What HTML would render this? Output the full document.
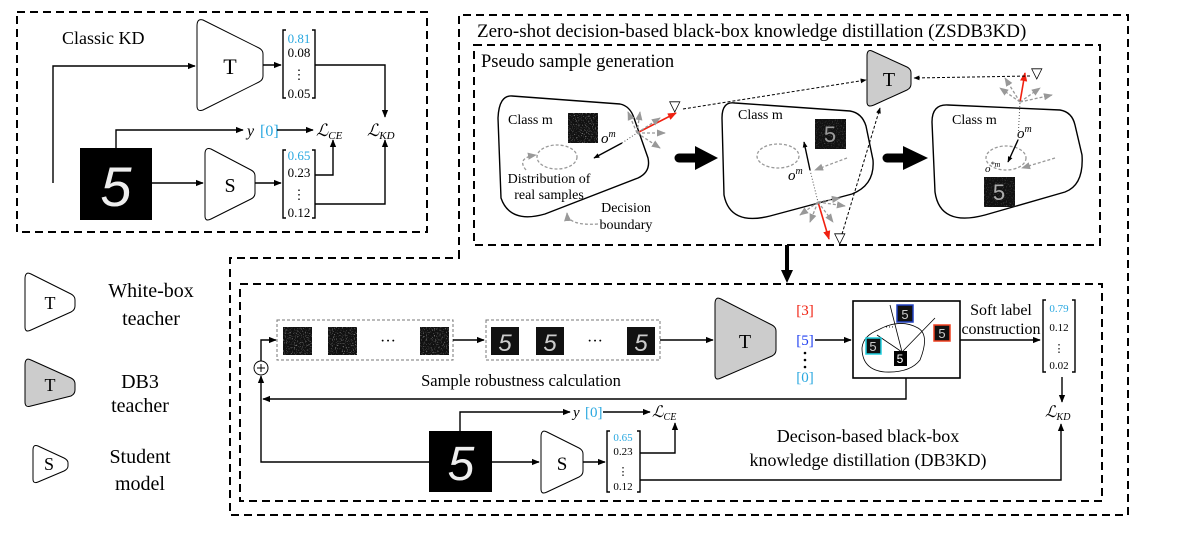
<!DOCTYPE html>
<html><head><meta charset="utf-8"><style>
html,body{margin:0;padding:0;background:#fff;}
svg{display:block;font-family:"Liberation Serif",serif;}
</style></head><body>
<svg width="1192" height="535" viewBox="0 0 1192 535" xmlns="http://www.w3.org/2000/svg">
<defs>
<marker id="a" viewBox="0 0 10 10" refX="9" refY="5" markerWidth="8" markerHeight="8" orient="auto-start-reverse" markerUnits="userSpaceOnUse"><path d="M0,1 L10,5 L0,9 z" fill="#000"/></marker>
<marker id="ag" viewBox="0 0 10 10" refX="9" refY="5" markerWidth="9" markerHeight="9" orient="auto" markerUnits="userSpaceOnUse"><path d="M0,1 L10,5 L0,9 z" fill="#999"/></marker>
<marker id="ar" viewBox="0 0 10 10" refX="9" refY="5" markerWidth="9" markerHeight="9" orient="auto" markerUnits="userSpaceOnUse"><path d="M0,1 L10,5 L0,9 z" fill="#f02010"/></marker>
<marker id="as" viewBox="0 0 10 10" refX="9" refY="5" markerWidth="6" markerHeight="6" orient="auto" markerUnits="userSpaceOnUse"><path d="M0,1 L10,5 L0,9 z" fill="#000"/></marker>
<filter id="n" x="0" y="0" width="1" height="1"><feTurbulence type="fractalNoise" baseFrequency="0.9" numOctaves="1" seed="3"/><feColorMatrix values="0 0 0 0 0.7 0 0 0 0 0.7 0 0 0 0 0.7 3 0 0 0 -1.7"/></filter>
</defs>
<style>
.d{fill:none;stroke:#000;stroke-width:2;stroke-dasharray:8,5}
.l{fill:none;stroke:#000;stroke-width:1.4}
.t{font-size:18px}
.s{font-size:13px}
.g{fill:none;stroke:#999;stroke-width:1.3;stroke-dasharray:3,2}
.nz{fill:#111}
</style>

<!-- Classic KD -->
<rect class="d" x="17" y="12" width="410" height="220"/>
<text x="62" y="44" class="t">Classic KD</text>
<path d="M203,20 L259,48 Q263,50 263,54 L263,76 Q263,80 259,82 L203,110 Q197,112 197,106 L197,26 Q197,18 203,20 Z" fill="#fff" stroke="#000" stroke-width="1"/>
<text x="230" y="74" font-size="22" text-anchor="middle">T</text>
<path class="l" d="M53,183 L53,66 L195,66" marker-end="url(#a)"/>
<path class="l" d="M263,65 L281,65" marker-end="url(#a)"/>
<rect x="80" y="148" width="72" height="72" fill="#000"/>
<text x="116" y="206" font-size="56" fill="#eee" text-anchor="middle" font-style="italic" font-family="Liberation Sans">5</text>
<path class="l" d="M152,183 L203,183" marker-end="url(#a)"/>
<path d="M211,149 L251,170 Q255,172 255,176 L255,193 Q255,197 251,199 L211,219 Q205,222 205,216 L205,154 Q205,147 211,149 Z" fill="#fff" stroke="#000" stroke-width="1"/>
<text x="230" y="192" font-size="20" text-anchor="middle">S</text>
<path class="l" d="M255,183 L281,183" marker-end="url(#a)"/>
<path class="l" d="M286,30 L283,30 L283,98 L286,98 M312,30 L315,30 L315,98 L312,98" stroke-width="1"/>
<text x="299" y="43" class="s" fill="#2aa8e0" text-anchor="middle">0.81</text>
<text x="299" y="57" class="s" text-anchor="middle">0.08</text>
<text x="299" y="79" class="s" text-anchor="middle">⋮</text>
<text x="299" y="98" class="s" text-anchor="middle">0.05</text>
<path class="l" d="M286,150 L283,150 L283,218 L286,218 M312,150 L315,150 L315,218 L312,218" stroke-width="1"/>
<text x="299" y="160" class="s" fill="#2aa8e0" text-anchor="middle">0.65</text>
<text x="299" y="177" class="s" text-anchor="middle">0.23</text>
<text x="299" y="199" class="s" text-anchor="middle">⋮</text>
<text x="299" y="217" class="s" text-anchor="middle">0.12</text>
<path class="l" d="M315,65 L385,65 L385,117" marker-end="url(#a)"/>
<path class="l" d="M315,204 L385,204 L385,140" marker-end="url(#a)"/>
<path class="l" d="M116,148 L116,130 L243,130" marker-end="url(#a)"/>
<text x="247" y="136" font-size="16" font-style="italic">y</text>
<text x="260" y="136" font-size="16" fill="#2aa8e0">[0]</text>
<path class="l" d="M277,130 L313,130" marker-end="url(#a)"/>
<text x="316" y="136" font-size="17" font-style="italic">ℒ<tspan font-size="11" dy="3">CE</tspan></text>
<path class="l" d="M315,175 L333,175 L333,140" marker-end="url(#a)"/>
<text x="367" y="136" font-size="17" font-style="italic">ℒ<tspan font-size="11" dy="3">KD</tspan></text>

<!-- Legend -->
<path d="M31,274 L71,294 Q75,296 75,300 L75,306 Q75,310 71,312 L31,330 Q25,333 25,327 L25,279 Q25,271 31,274 Z" fill="#fff" stroke="#000" stroke-width="1"/>
<text x="50" y="309" font-size="18" text-anchor="middle">T</text>
<text x="151" y="297" font-size="20" text-anchor="middle">White-box</text>
<text x="151" y="325" font-size="20" text-anchor="middle">teacher</text>
<path d="M31,360 L71,378 Q75,380 75,384 L75,390 Q75,394 71,396 L31,406 Q25,408 25,402 L25,365 Q25,357 31,360 Z" fill="#ccc" stroke="#000" stroke-width="1"/>
<text x="50" y="391" font-size="18" text-anchor="middle">T</text>
<text x="140" y="388" font-size="20" text-anchor="middle">DB3</text>
<text x="140" y="412" font-size="20" text-anchor="middle">teacher</text>
<path d="M38,446 L64,458 Q68,460 68,463 L68,466 Q68,469 64,471 L38,482 Q33,484 33,479 L33,450 Q33,444 38,446 Z" fill="#fff" stroke="#000" stroke-width="1"/>
<text x="49" y="470" font-size="18" text-anchor="middle">S</text>
<text x="140" y="463" font-size="20" text-anchor="middle">Student</text>
<text x="140" y="490" font-size="20" text-anchor="middle">model</text>

<!-- ZSDB3KD outer -->
<path class="d" d="M459,258 L459,15 L1128,15 L1128,515 L230,515 L230,258 Z"/>
<text x="477" y="37" font-size="19">Zero-shot decision-based black-box knowledge distillation  (ZSDB3KD)</text>
<rect class="d" x="474" y="45" width="626" height="200"/>
<text x="481" y="67" font-size="18.5">Pseudo sample generation</text>

<!-- gray T -->
<path d="M872,51 L907,67 Q911,69 911,73 L911,84 Q911,88 907,90 L874,105 Q867,108 867,102 L867,56 Q867,49 872,51 Z" fill="#ccc" stroke="#000" stroke-width="1"/>
<text x="889" y="86" font-size="20" text-anchor="middle">T</text>

<!-- blob1 -->
<path d="M512,96 L620,104 Q630,106 634,118 L648,158 Q651,172 638,178 L545,214 Q510,224 501,198 L498,118 Q499,95 512,96 Z" class="l" stroke-width="1.8"/>
<text x="508" y="124" font-size="14">Class m</text>
<rect x="568" y="113" width="30" height="30" class="nz"/><rect x="568" y="113" width="30" height="30" filter="url(#n)"/>
<ellipse cx="557" cy="157" rx="20" ry="12" class="g" stroke="#333"/>
<text x="601" y="143" font-size="15" font-style="italic">o<tspan font-size="10" dy="-6">m</tspan></text>
<path class="l" d="M622,143 L594,158" marker-end="url(#as)" stroke-width="1.6"/>
<path d="M622,143 L637,133" stroke="#555" stroke-dasharray="1,2" fill="none"/>
<path d="M637,133 L676,113" stroke="#f02010" stroke-width="1.6" fill="none" marker-end="url(#ar)"/>
<text x="669" y="111" font-size="15">▽</text>
<path class="g" d="M637,133 L640,112" marker-end="url(#ag)"/><path class="g" d="M637,133 L660,118" marker-end="url(#ag)"/>
<path class="g" d="M637,133 L665,133" marker-end="url(#ag)"/><path class="g" d="M637,133 L660,148" marker-end="url(#ag)"/>
<path class="g" d="M637,133 L628,112" marker-end="url(#ag)"/>
<text x="549" y="183" font-size="14" text-anchor="middle">Distribution of</text>
<text x="549" y="199" font-size="14" text-anchor="middle">real samples</text>
<text x="626" y="212" font-size="14" text-anchor="middle">Decision</text>
<text x="626" y="229" font-size="14" text-anchor="middle">boundary</text>
<path class="g" d="M526,170 Q516,158 536,155" marker-end="url(#ag)"/>
<path class="g" d="M598,224 Q568,226 567,213" marker-end="url(#ag)"/>
<path d="M683,109 L866,80" fill="none" stroke="#000" stroke-dasharray="3,2" stroke-width="1" marker-end="url(#as)"/>

<!-- big arrow 1 -->
<path d="M679,158 L697,158" stroke="#000" stroke-width="9" stroke-linecap="round"/>
<path d="M695,146 L718,158 L695,170 Z"/>

<!-- blob2 -->
<path d="M735,103 L850,111 Q862,113 866,126 L873,160 Q875,185 852,194 L770,216 Q730,226 724,195 L722,118 Q722,101 735,103 Z" class="l" stroke-width="1.8"/>
<text x="738" y="119" font-size="14">Class m</text>
<rect x="815" y="119" width="31" height="30" class="nz"/><rect x="815" y="119" width="31" height="30" filter="url(#n)" opacity="0.5"/>
<text x="830" y="142" font-size="22" fill="#999" text-anchor="middle" font-family="Liberation Sans">5</text>
<ellipse cx="778" cy="156" rx="21" ry="12" class="g" stroke="#333"/>
<text x="788" y="180" font-size="15" font-style="italic">o<tspan font-size="10" dy="-6">m</tspan></text>
<path class="l" d="M810,170 L804,142" marker-end="url(#as)" stroke-width="1.6"/>
<path d="M810,170 L818,202" stroke="#555" stroke-dasharray="1,2" fill="none"/>
<path d="M818,202 L829,239" stroke="#f02010" stroke-width="1.6" fill="none" marker-end="url(#ar)"/>
<text x="834" y="243" font-size="15">▽</text>
<path class="g" d="M847,158 L815,170" marker-end="url(#ag)"/>
<path class="g" d="M818,202 L800,215" marker-end="url(#ag)"/><path class="g" d="M818,202 L810,222" marker-end="url(#ag)"/>
<path class="g" d="M818,202 L833,222" marker-end="url(#ag)"/><path class="g" d="M818,202 L845,206" marker-end="url(#ag)"/>
<path class="g" d="M818,202 L840,198" marker-end="url(#ag)"/>
<path d="M842,234 L880,108" fill="none" stroke="#000" stroke-dasharray="3,2" stroke-width="1" marker-end="url(#as)"/>

<!-- big arrow 2 -->
<path d="M887,158 L905,158" stroke="#000" stroke-width="9" stroke-linecap="round"/>
<path d="M903,146 L928,158 L903,170 Z"/>

<!-- blob3 -->
<path d="M948,105 L1060,110 Q1072,112 1075,125 L1082,155 Q1084,185 1065,192 L985,215 Q940,227 935,192 L932,122 Q932,104 948,105 Z" class="l" stroke-width="1.8"/>
<text x="952" y="124" font-size="14">Class m</text>
<rect x="984" y="177" width="31" height="30" class="nz"/><rect x="984" y="177" width="31" height="30" filter="url(#n)" opacity="0.5"/>
<text x="999" y="200" font-size="22" fill="#aaa" text-anchor="middle" font-family="Liberation Sans">5</text>
<ellipse cx="1006" cy="158" rx="20" ry="12" class="g" stroke="#333"/>
<text x="1017" y="138" font-size="15" font-style="italic">o<tspan font-size="10" dy="-6">m</tspan></text>
<text x="985" y="172" font-size="11" font-style="italic">o<tspan font-size="8" dy="-5">*m</tspan></text>
<path class="l" d="M1018,140 L1008,162" marker-end="url(#as)" stroke-width="1.6"/>
<path d="M1018,140 L1020,102" stroke="#555" stroke-dasharray="1,2" fill="none"/>
<path d="M1020,102 L1025,73" stroke="#f02010" stroke-width="1.6" fill="none" marker-end="url(#ar)"/>
<text x="1031" y="78" font-size="15">▽</text>
<path class="g" d="M1020,102 L1000,88" marker-end="url(#ag)"/><path class="g" d="M1020,102 L1005,78" marker-end="url(#ag)"/>
<path class="g" d="M1020,102 L1040,88" marker-end="url(#ag)"/><path class="g" d="M1020,102 L1052,95" marker-end="url(#ag)"/>
<path class="g" d="M1055,158 L1022,168" marker-end="url(#ag)"/>
<path d="M1030,76 L914,78" fill="none" stroke="#000" stroke-dasharray="3,2" stroke-width="1" marker-end="url(#as)"/>

<!-- down arrow -->
<path d="M787,245 L787,272" stroke="#000" stroke-width="4"/>
<path d="M781,270 L787,283 L793,270 Z"/>

<!-- DB3KD box -->
<rect class="d" x="240" y="284" width="862" height="217"/>
<rect x="277" y="320" width="176" height="40" fill="none" stroke="#777" stroke-dasharray="3,2"/>
<rect x="283" y="327" width="29" height="28" class="nz"/><rect x="283" y="327" width="29" height="28" filter="url(#n)"/>
<rect x="328" y="327" width="29" height="28" class="nz"/><rect x="328" y="327" width="29" height="28" filter="url(#n)"/>
<text x="388" y="346" font-size="16" text-anchor="middle">···</text>
<rect x="420" y="327" width="29" height="28" class="nz"/><rect x="420" y="327" width="29" height="28" filter="url(#n)"/>
<path class="l" d="M453,340 L484,340" marker-end="url(#a)"/>
<rect x="486" y="320" width="174" height="40" fill="none" stroke="#777" stroke-dasharray="3,2"/>
<rect x="491" y="327" width="28" height="28" fill="#111"/><text x="505" y="351" font-size="24" fill="#ccc" text-anchor="middle" font-family="Liberation Sans" font-style="italic">5</text>
<rect x="536" y="327" width="28" height="28" fill="#111"/><text x="550" y="351" font-size="24" fill="#ccc" text-anchor="middle" font-family="Liberation Sans" font-style="italic">5</text>
<text x="595" y="346" font-size="16" text-anchor="middle">···</text>
<rect x="627" y="327" width="28" height="28" fill="#111"/><text x="641" y="351" font-size="24" fill="#ccc" text-anchor="middle" font-family="Liberation Sans" font-style="italic">5</text>
<path class="l" d="M660,340 L713,340" marker-end="url(#a)"/>
<path d="M721,299 L772,325 Q776,327 776,331 L776,350 Q776,354 772,356 L721,378 Q715,381 715,375 L715,304 Q715,296 721,299 Z" fill="#ccc" stroke="#000" stroke-width="1"/>
<text x="745" y="348" font-size="20" text-anchor="middle">T</text>
<text x="805" y="315" font-size="15" fill="#f02010" text-anchor="middle">[3]</text>
<text x="805" y="345" font-size="15" fill="#2040f0" text-anchor="middle">[5]</text>
<circle cx="805" cy="353" r="1.3"/><circle cx="805" cy="360" r="1.3"/><circle cx="805" cy="367" r="1.3"/>
<text x="805" y="382" font-size="15" fill="#2aa8e0" text-anchor="middle">[0]</text>
<path class="l" d="M815,340 L851,340" marker-end="url(#a)" stroke-width="1.8"/>
<rect x="853" y="301" width="107" height="77" fill="#fff" stroke="#000" stroke-width="1.6"/>
<path d="M878,330 Q900,318 918,328 Q930,335 920,360 Q910,373 885,372 Q862,370 862,348 Q863,336 878,330 Z" fill="none" stroke="#000" stroke-width="0.8"/>
<path d="M902,352 L890,305 M902,352 L935,318 M902,352 L877,335" stroke="#000" stroke-width="0.8" fill="none"/>
<text x="885" y="330" font-size="9">···</text>
<rect x="897" y="305" width="16" height="17" fill="#111" stroke="#2040c0" stroke-width="1.5"/><text x="905" y="319" font-size="13" fill="#ccc" text-anchor="middle" font-family="Liberation Sans">5</text>
<rect x="934" y="325" width="16" height="16" fill="#111" stroke="#f04020" stroke-width="1.5"/><text x="942" y="338" font-size="13" fill="#ccc" text-anchor="middle" font-family="Liberation Sans">5</text>
<rect x="866" y="338" width="15" height="16" fill="#111" stroke="#20d0e0" stroke-width="1.5"/><text x="873" y="351" font-size="13" fill="#ccc" text-anchor="middle" font-family="Liberation Sans">5</text>
<rect x="894" y="351" width="13" height="15" fill="#000"/><text x="900" y="363" font-size="12" fill="#fff" text-anchor="middle" font-family="Liberation Sans">5</text>
<text x="1001" y="315" font-size="16" text-anchor="middle">Soft label</text>
<text x="1001" y="334" font-size="16" text-anchor="middle">construction</text>
<path class="l" d="M960,340 L1040,340" marker-end="url(#a)"/>
<path class="l" d="M1046,300 L1043,300 L1043,372 L1046,372 M1072,300 L1075,300 L1075,372 L1072,372" stroke-width="1"/>
<text x="1059" y="312" font-size="11" fill="#2aa8e0" text-anchor="middle">0.79</text>
<text x="1059" y="331" font-size="11" text-anchor="middle">0.12</text>
<text x="1059" y="352" font-size="11" text-anchor="middle">⋮</text>
<text x="1059" y="369" font-size="11" text-anchor="middle">0.02</text>
<path class="l" d="M1062,377 L1062,402" marker-end="url(#a)"/>
<text x="1045" y="417" font-size="16" font-style="italic">ℒ<tspan font-size="10" dy="3">KD</tspan></text>
<text x="521" y="386" font-size="16.5" text-anchor="middle">Sample robustness calculation</text>
<path class="l" d="M906,378 L906,399 L263,399" marker-end="url(#a)"/>
<circle cx="261" cy="368" r="7" fill="#fff" stroke="#000" stroke-width="1"/>
<path d="M257,368 L265,368 M261,364 L261,372" stroke="#000" stroke-width="1"/>
<path class="l" d="M261,361 L261,340 L276,340" marker-end="url(#a)"/>
<path class="l" d="M429,462 L261,462 L261,376" marker-end="url(#a)"/>
<rect x="429" y="431" width="63" height="61" fill="#000"/>
<text x="461" y="480" font-size="48" fill="#eee" text-anchor="middle" font-style="italic" font-family="Liberation Sans">5</text>
<path class="l" d="M492,462 L539,462" marker-end="url(#a)"/>
<path d="M547,432 L579,448 Q583,450 583,454 L583,471 Q583,475 579,477 L547,492 Q541,495 541,489 L541,437 Q541,429 547,432 Z" fill="#fff" stroke="#000" stroke-width="1"/>
<text x="562" y="470" font-size="19" text-anchor="middle">S</text>
<path class="l" d="M583,462 L605,462" marker-end="url(#a)"/>
<path class="l" d="M610,431 L607,431 L607,492 L610,492 M637,431 L640,431 L640,492 L637,492" stroke-width="1"/>
<text x="623" y="441" font-size="11" fill="#2aa8e0" text-anchor="middle">0.65</text>
<text x="623" y="455" font-size="11" text-anchor="middle">0.23</text>
<text x="623" y="475" font-size="11" text-anchor="middle">⋮</text>
<text x="623" y="490" font-size="11" text-anchor="middle">0.12</text>
<path class="l" d="M460,431 L460,412 L570,412" marker-end="url(#a)"/>
<text x="573" y="417" font-size="15" font-style="italic">y</text>
<text x="585" y="417" font-size="15" fill="#2aa8e0">[0]</text>
<path class="l" d="M603,412 L650,412" marker-end="url(#a)"/>
<text x="652" y="417" font-size="16" font-style="italic">ℒ<tspan font-size="10" dy="3">CE</tspan></text>
<path class="l" d="M640,453 L675,453 L675,423" marker-end="url(#a)"/>
<path class="l" d="M640,480 L1061,480 L1061,424" marker-end="url(#a)"/>
<text x="868" y="442" font-size="18" text-anchor="middle">Decison-based black-box</text>
<text x="868" y="466" font-size="18" text-anchor="middle">knowledge distillation (DB3KD)</text>
</svg>
</body></html>
